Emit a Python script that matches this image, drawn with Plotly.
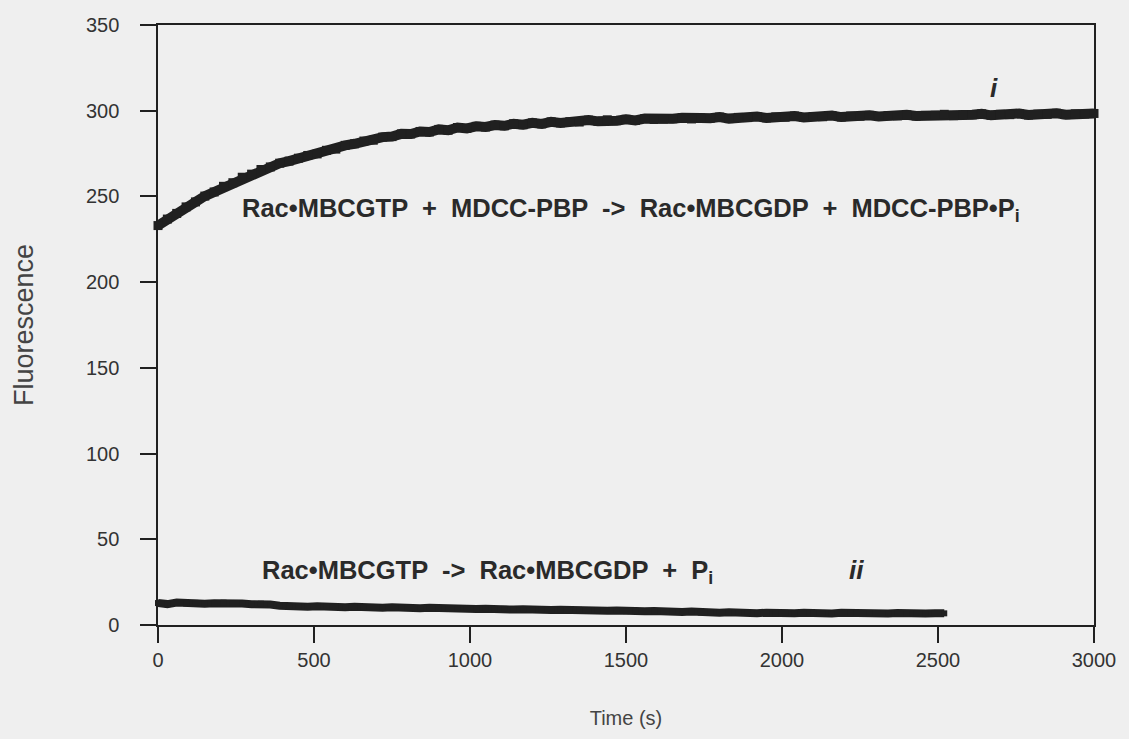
import plotly.graph_objects as go

# Time base (s) for each trace
time_i = list(range(0, 3001, 30))
time_ii = list(range(0, 2521, 30))

# Trace i: Rac•MBCGTP + MDCC-PBP (fluorescence, a.u.)
fluor_i = [
    233.0, 236.8, 240.1, 243.9, 246.8, 250.2, 252.6, 255.9, 258.0, 261.2,
    263.0, 265.7, 267.2, 269.4, 270.6, 272.3, 273.9, 274.8, 276.9, 277.6,
    279.8, 280.7, 282.3, 282.8, 284.6, 284.9, 286.5, 286.4, 287.9, 287.6,
    289.1, 288.6, 290.2, 289.7, 290.9, 290.5, 291.6, 291.2, 292.4, 291.8,
    292.9, 292.3, 293.5, 292.9, 293.6, 293.4, 294.5, 293.8, 294.7, 294.2,
    295.0, 294.3, 295.4, 294.9, 295.1, 295.3, 295.9, 295.2, 295.8, 295.6,
    296.3, 295.4, 296.1, 296.0, 296.6, 295.8, 296.4, 296.2, 296.9, 296.1,
    296.6, 296.5, 297.2, 296.3, 296.9, 296.8, 297.3, 296.6, 297.1, 297.0,
    297.6, 296.9, 297.3, 297.4, 297.9, 297.1, 297.5, 297.6, 298.2, 297.3,
    297.9, 297.7, 298.4, 297.5, 298.0, 297.9, 298.5, 297.7, 298.2, 298.1,
    298.4,
]

# Trace ii: Rac•MBCGTP alone (fluorescence, a.u.)
fluor_ii = [
    12.8, 12.2, 13.1, 12.6, 12.9, 12.4, 12.7, 13.0, 12.3, 12.5,
    12.1, 12.4, 11.9, 11.2, 10.8, 11.1, 10.7, 11.0, 10.6, 10.9,
    10.4, 10.7, 10.2, 10.5, 10.1, 10.3, 9.9, 10.2, 9.8, 10.0,
    9.7, 9.9, 9.6, 9.8, 9.3, 9.5, 9.1, 9.4, 9.0, 9.2,
    8.8, 9.1, 8.7, 8.9, 8.6, 8.8, 8.4, 8.7, 8.3, 8.5,
    8.1, 8.4, 8.0, 8.2, 7.8, 8.0, 7.6, 7.9, 7.3, 7.6,
    7.1, 7.4, 7.0, 7.3, 6.9, 7.2, 6.8, 7.1, 6.9, 7.2,
    6.8, 7.0, 6.7, 7.1, 6.8, 7.0, 6.6, 6.9, 6.7, 7.0,
    6.6, 6.9, 6.7, 6.9, 6.8,
]

x_ticks = [0, 500, 1000, 1500, 2000, 2500, 3000]
y_ticks = [0, 50, 100, 150, 200, 250, 300, 350]

ink = "#202020"
bg = "#efefef"
font_family = "Liberation Sans, Arial, sans-serif"

fig = go.Figure()
fig.add_trace(go.Scatter(
    x=time_i, y=fluor_i, mode="lines+markers",
    line=dict(color=ink, width=10),
    marker=dict(symbol="square", size=9, color=ink),
    showlegend=False, cliponaxis=False,
))
fig.add_trace(go.Scatter(
    x=time_ii, y=fluor_ii, mode="lines+markers",
    line=dict(color=ink, width=8),
    marker=dict(symbol="square", size=6, color=ink),
    showlegend=False, cliponaxis=False,
))

label_font = dict(family=font_family, size=25.5, color="#2a2a2a")
fig.add_annotation(
    x=263, y=242, xanchor="left", yanchor="middle", showarrow=False,
    text="<b>Rac•MBCGTP  +  MDCC-PBP  ->  Rac•MBCGDP  +  MDCC-PBP•P<sub>i</sub></b>",
    font=label_font,
)
fig.add_annotation(
    x=327, y=31, xanchor="left", yanchor="middle", showarrow=False,
    text="<b>Rac•MBCGTP  ->  Rac•MBCGDP  +  P<sub>i</sub></b>",
    font=label_font,
)
fig.add_annotation(
    x=2680, y=313, showarrow=False, text="<b><i>i</i></b>",
    font=dict(family=font_family, size=26, color="#2a2a2a"),
)
fig.add_annotation(
    x=2240, y=32, showarrow=False, text="<b><i>ii</i></b>",
    font=dict(family=font_family, size=26, color="#2a2a2a"),
)

axis_common = dict(
    showgrid=False, zeroline=False, showline=True, mirror=True,
    linecolor=ink, linewidth=2, ticks="outside", ticklen=16,
    tickwidth=2, tickcolor=ink,
    tickfont=dict(family=font_family, size=20, color="#333333"),
)

fig.update_xaxes(
    range=[0, 3000], tickvals=x_ticks, ticktext=[str(v) for v in x_ticks],
    title_text="Time (s)", title_standoff=41,
    title_font=dict(family=font_family, size=20, color="#444444"),
    **axis_common,
)
# non-breaking spaces keep the value labels clear of the tick marks
fig.update_yaxes(
    range=[0, 350], tickvals=y_ticks,
    ticktext=[str(v) + "\u00a0\u00a0\u00a0" for v in y_ticks],
    title_text="Fluorescence", title_standoff=45,
    title_font=dict(family=font_family, size=27, color="#444444"),
    **axis_common,
)

fig.update_layout(
    width=1129, height=739,
    margin=dict(l=158, r=35, t=25, b=114),
    paper_bgcolor=bg, plot_bgcolor=bg,
)

fig.write_html("out.html")
